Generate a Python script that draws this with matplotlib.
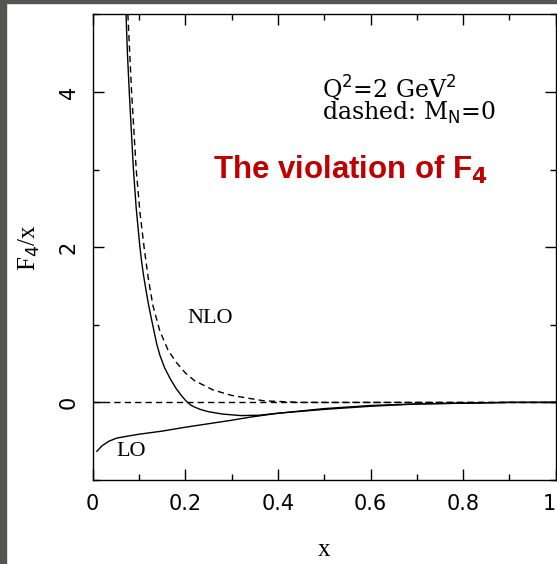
import matplotlib
matplotlib.use("Agg")
import matplotlib.pyplot as plt
from matplotlib.patches import Rectangle
from matplotlib.ticker import MultipleLocator

# curves
nlo_x = [0.072, 0.075, 0.079, 0.083, 0.088, 0.094, 0.102, 0.106, 0.110, 0.115,
         0.120, 0.126, 0.132, 0.138, 0.145, 0.155, 0.167, 0.180, 0.192, 0.203,
         0.212, 0.220, 0.232, 0.250, 0.280, 0.320, 0.360, 0.400, 0.500, 0.600,
         0.700, 0.800, 0.900, 1.000]
nlo_y = [5.00, 4.50, 4.00, 3.55, 3.00, 2.50, 2.00, 1.80, 1.63, 1.45,
         1.28, 1.10, 0.93, 0.76, 0.61, 0.45, 0.31, 0.18, 0.085, 0.01,
         -0.035, -0.06, -0.09, -0.12, -0.15, -0.17, -0.165, -0.14, -0.08, -0.04,
         -0.02, -0.01, 0.00, 0.00]

nlo0_x = [0.076, 0.080, 0.084, 0.094, 0.102, 0.111, 0.120, 0.130, 0.145, 0.163,
          0.180, 0.200, 0.220, 0.260, 0.300, 0.340, 0.370, 0.450, 0.600, 1.000]
nlo0_y = [5.00, 4.50, 4.00, 3.00, 2.45, 2.00, 1.60, 1.25, 0.92, 0.67,
          0.52, 0.38, 0.28, 0.16, 0.09, 0.05, 0.02, 0.00, 0.00, 0.00]

lo_x = [0.009, 0.020, 0.035, 0.052, 0.075, 0.100, 0.150, 0.200, 0.300, 0.340,
        0.400, 0.500, 0.600, 0.700, 0.800, 0.900, 1.000]
lo_y = [-0.63, -0.56, -0.50, -0.46, -0.435, -0.41, -0.37, -0.32, -0.23, -0.19,
        -0.14, -0.09, -0.05, -0.02, -0.01, 0.00, 0.00]

xticks = [0, 0.2, 0.4, 0.6, 0.8, 1]
xticklabels = ["0", "0.2", "0.4", "0.6", "0.8", "1"]
yticks = [0, 2, 4]

fig = plt.figure(figsize=(5.57, 5.64), dpi=100)
ax = fig.add_axes([0.1664, 0.1489, 0.8313, 0.8258])

# dark frame strips of the screenshot
fig.patches.append(Rectangle((0, 0), 6 / 557, 1, transform=fig.transFigure,
                             color="#55564f", zorder=0))
fig.patches.append(Rectangle((0, 1 - 3 / 564), 1, 3 / 564, transform=fig.transFigure,
                             color="#55564f", zorder=0))

lw = 1.0
ax.plot(nlo_x, nlo_y, color="black", lw=lw)
ax.plot(nlo0_x, nlo0_y, color="black", lw=lw, dashes=(4.5, 3))
ax.plot(lo_x, lo_y, color="black", lw=lw)
ax.axhline(0, color="black", lw=lw, dashes=(4.5, 3))

ax.set_xlim(0, 1)
ax.set_ylim(-1, 5)
ax.set_xticks(xticks)
ax.set_xticklabels(xticklabels)
ax.set_yticks(yticks)
ax.xaxis.set_minor_locator(MultipleLocator(0.1))
ax.yaxis.set_minor_locator(MultipleLocator(1))
ax.tick_params(which="both", direction="in", top=True, right=True, width=1)
ax.tick_params(which="major", length=8, labelsize=15, pad=10)
ax.tick_params(which="minor", length=4)
for lab in ax.get_yticklabels():
    lab.set_rotation(90)
    lab.set_va("center")
# last label sits at the right edge of the figure
ax.get_xticklabels()[-1].set_ha("right")
for sp in ax.spines.values():
    sp.set_linewidth(1)

ax.set_xlabel("x", fontsize=18, family="Liberation Serif", labelpad=18)
ax.set_ylabel(r"F$_4$/x", fontsize=18, family="Liberation Serif", labelpad=12)

ax.text(0.253, 1.08, "NLO", fontsize=16, family="Liberation Serif",
        ha="center", va="center")
ax.text(0.083, -0.63, "LO", fontsize=16, family="Liberation Serif",
        ha="center", va="center")

ax.text(0.495, 4.24, r"Q$^2$=2 GeV$^2$" + "\n" + r"dashed: M$_\mathrm{N}$=0",
        fontsize=17, family="DejaVu Serif", ha="left", va="top",
        linespacing=0.85)
ax.text(0.26, 3.0, r"The violation of F$_\mathbf{4}$", fontsize=22.5,
        family="Liberation Sans", weight="bold", color="#c00000",
        ha="left", va="center")

fig.savefig("out.png", dpi=100)
